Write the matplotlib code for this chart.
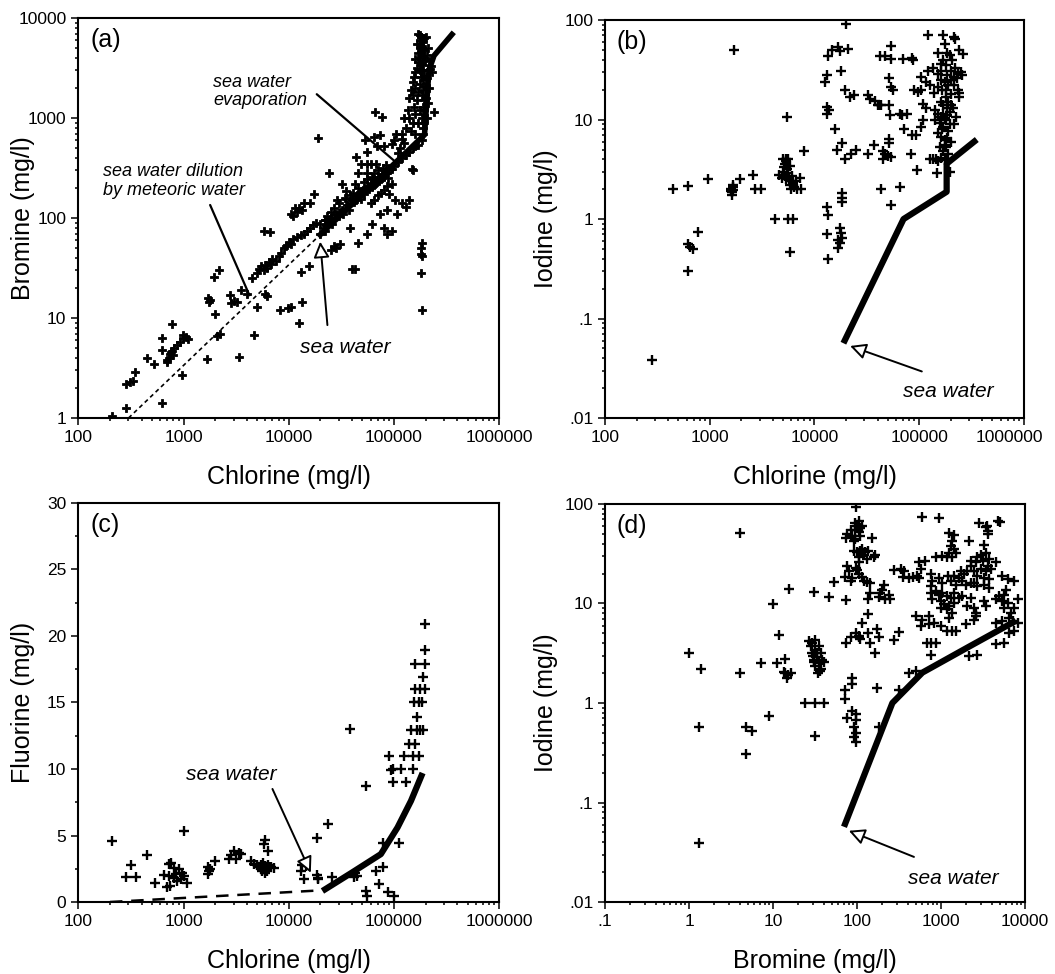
import numpy as np
import matplotlib
matplotlib.use('Agg')
import matplotlib.pyplot as plt
import matplotlib.transforms as mtransforms
from matplotlib.ticker import LogLocator, NullFormatter, MultipleLocator

plt.rcParams['font.family'] = ['Liberation Sans', 'DejaVu Sans']

# ---- (a) chlorine vs bromine (mg/l)
a_pts = [
    (210, 1.05), (285, 1.27), (285, 2.2), (310, 2.3), (330, 2.35), (345, 2.9), (445, 4.0), (525, 3.5),
    (630, 1.4), (625, 6.3), (630, 4.8), (780, 8.7), (690, 3.6), (700, 3.8), (720, 4.0), (740, 4.4),
    (760, 4.6), (780, 4.7), (800, 4.3), (820, 5.0), (870, 5.4), (920, 5.8), (980, 6.3), (1050, 6.5),
    (1100, 6.2), (960, 2.7), (990, 6.8), (1660, 3.9), (1700, 16), (1750, 14.5), (1800, 15), (2000, 11),
    (1950, 26), (2150, 30), (2100, 6.6), (2200, 6.9), (2750, 17), (2850, 14), (3000, 14.8), (3200, 14.5),
    (3400, 4.1), (3500, 19), (4000, 17.5), (4700, 6.7), (5000, 13), (4500, 25), (6200, 16.5), (6000, 17.5),
    (5000, 28), (5200, 31), (5500, 33), (5800, 30), (6000, 34), (6200, 32), (6500, 36), (6800, 35),
    (7000, 39), (7500, 37), (8000, 42), (8500, 45), (9000, 50), (9500, 52), (10000, 58), (10500, 55),
    (11000, 62), (12000, 65), (13000, 68), (14000, 70), (15000, 75), (16000, 80), (17000, 85), (18000, 90),
    (20000, 88), (22000, 95), (25000, 100), (5800, 75), (6600, 72), (10500, 110), (11500, 125), (12500, 125),
    (12000, 115), (11000, 105), (13500, 120), (17500, 175), (14000, 140), (16000, 140), (19000, 630), (24000, 280),
    (32000, 220), (27000, 52), (31000, 55), (40000, 31), (43000, 31), (8300, 12), (9800, 12.5), (10500, 13),
    (12400, 9), (13500, 14.5), (13000, 29), (15500, 33), (25000, 48), (28000, 50),
    # around the sea water line
    (44000, 410), (55000, 460), (53000, 600), (69000, 520), (66000, 1150), (77000, 1030), (64000, 650), (73000, 670),
    (80000, 520), (49000, 350), (55000, 350), (61000, 350), (68000, 350), (46000, 280), (55000, 280), (64000, 280),
    (43000, 220), (51000, 190), (57000, 200), (44000, 150), (49000, 155), (29000, 150), (35000, 185), (35000, 155),
    (20000, 70), (21000, 80), (22000, 75), (23000, 85), (24000, 90), (25000, 95), (26000, 88), (27000, 100),
    (28000, 110), (30000, 105), (31000, 115), (32000, 120), (33000, 110), (35000, 125), (36000, 135), (37000, 120),
    (38000, 140), (40000, 150), (42000, 145), (44000, 160), (45000, 170), (47000, 165), (48000, 180), (50000, 185),
    (52000, 175), (54000, 190), (55000, 200), (57000, 210), (58000, 195), (60000, 220), (62000, 205), (64000, 230),
    (65000, 215), (66000, 240), (68000, 225), (70000, 250), (72000, 235), (74000, 260), (75000, 245), (78000, 270),
    (80000, 260), (82000, 290), (85000, 280), (90000, 300), (95000, 310), (100000, 330), (110000, 360), (120000, 400),
    (130000, 430), (140000, 460), (150000, 500), (160000, 520), (170000, 540), (60000, 140), (65000, 150), (70000, 170),
    (75000, 180), (80000, 190), (85000, 210), (90000, 175), (95000, 220), (88000, 250), (62000, 260), (56000, 245),
    (52000, 230), (70000, 300), (78000, 320), (84000, 340), (46000, 200), (41000, 180), (38000, 170), (34000, 160),
    (30000, 140), (27000, 125), (25000, 115), (23000, 105), (22000, 95), (46000, 56), (38000, 80), (55000, 70),
    (62000, 88), (80000, 80), (85000, 70), (95000, 75), (73000, 110), (85000, 120), (106000, 110), (130000, 130),
    (138000, 150), (120000, 140), (102000, 150), (150000, 300), (147000, 310),
    (184000, 56), (182000, 50), (180000, 44), (184000, 42), (182000, 28), (184000, 12), (240000, 1160),
    # evaporated brines
    (185000, 600), (190000, 700), (188000, 800), (192000, 900), (186000, 1000), (190000, 1100), (194000, 1200),
    (188000, 1300), (192000, 1500), (186000, 1700), (190000, 1900), (195000, 2100), (188000, 2400), (192000, 2700),
    (186000, 3000), (190000, 3400), (196000, 3800), (188000, 4200), (192000, 4800), (186000, 5300), (190000, 5800),
    (194000, 6300), (200000, 6500), (150000, 900), (160000, 1100), (155000, 1300), (165000, 1500), (150000, 1700),
    (140000, 1600), (145000, 1900), (160000, 2000), (150000, 2300), (155000, 2600), (160000, 2900), (165000, 3200),
    (170000, 3600), (160000, 3900), (170000, 4500), (175000, 5000), (165000, 5500), (175000, 6000), (180000, 6500),
    (170000, 7000), (178000, 6800), (130000, 800), (120000, 700), (125000, 1000), (135000, 1200), (140000, 1000),
    (145000, 750), (160000, 700), (170000, 900), (175000, 1200), (170000, 1800), (175000, 2200), (180000, 2600),
    (175000, 3000), (182000, 3500), (178000, 4000), (182000, 4600), (176000, 5500), (184000, 5000), (205000, 1000),
    (210000, 1400), (200000, 1600), (215000, 2000), (205000, 2500), (210000, 3000), (220000, 3100), (230000, 2900),
    (225000, 3300), (215000, 3700), (205000, 4300), (210000, 5000), (110000, 450), (115000, 500), (125000, 560),
    (120000, 620), (100000, 600), (95000, 550), (105000, 700),
]
a_evap_cl = [19000, 195000, 215000, 240000, 370000]
a_evap_br = [65, 680, 3000, 4200, 7200]
a_dil_cl = [300, 19000]
a_dil_br = [1.0, 65]

# ---- (b) chlorine vs iodine (mg/l)
b_pts = [
    (280, 0.038), (450, 2.0), (615, 2.15), (615, 0.56), (650, 0.52), (690, 0.5), (615, 0.3), (770, 0.74),
    (960, 2.5), (1600, 2.0), (1650, 2.1), (1620, 1.85), (1680, 1.95), (1580, 1.9), (1660, 2.2), (1640, 1.75),
    (1700, 50), (1950, 2.5), (2600, 2.8), (2700, 2.0), (3100, 2.0), (4200, 1.0), (5600, 1.0), (6300, 1.0),
    (5800, 0.47), (5500, 10.5), (8000, 4.8), (4600, 2.8), (4900, 2.6), (5000, 3.0), (5100, 3.3), (5200, 3.6),
    (5300, 4.0), (5400, 3.8), (5500, 3.2), (5600, 2.9), (5700, 2.6), (5800, 2.4), (5900, 2.2), (6000, 2.0),
    (6200, 2.3), (6400, 2.1), (6600, 2.4), (6800, 2.0), (7200, 2.6), (7500, 2.0), (5000, 4.0), (5600, 4.0),
    (5200, 2.7), (5400, 2.5), (6100, 2.7), (5800, 3.4), (12600, 24), (13350, 43.5), (14700, 50), (16800, 54),
    (17700, 49), (20800, 51), (20000, 91), (18000, 31), (13300, 28), (13300, 13.5), (13800, 12.5), (13100, 11.5),
    (15700, 8.0), (16500, 5.0), (18500, 5.8), (19500, 4.0), (22400, 4.5), (25000, 5.0), (19500, 20), (21800, 17),
    (24000, 17.5), (32600, 17.5), (33700, 16), (37800, 15.5), (40000, 14), (41500, 14), (43000, 14), (37000, 5.5),
    (32600, 4.5), (43000, 2.0), (45000, 4.8), (47000, 4.5), (50000, 4.3), (54000, 4.2), (45000, 4.0), (42000, 44),
    (47000, 44), (54000, 55), (54000, 41), (52000, 26), (54000, 21), (56000, 20), (52000, 14), (53000, 11),
    (51000, 6.4), (52000, 5.8), (54000, 1.4), (65000, 2.1), (65000, 11.5), (68000, 11), (77000, 11.5), (70000, 41),
    (85000, 42), (88000, 40), (72000, 8), (85000, 7), (93000, 7), (83000, 4.5), (95000, 3.1), (122000, 71),
    (105000, 27), (115000, 24), (127000, 22), (108000, 10), (105000, 8.5), (122000, 31), (135000, 33), (150000, 29),
    (170000, 70), (150000, 47), (175000, 57), (215000, 68), (218000, 64), (240000, 50), (265000, 46), (170000, 40),
    (180000, 35), (163000, 31), (185000, 28), (200000, 31), (215000, 27), (235000, 29), (255000, 28), (140000, 18.5),
    (150000, 21), (165000, 20), (180000, 17), (200000, 18), (235000, 20), (240000, 18.5), (141000, 12.5), (150000, 11.5),
    (163000, 10.7), (175000, 10.3), (141000, 9.9), (158000, 9.2), (170000, 8.5), (182000, 9.9), (150000, 7.3),
    (163000, 6.7), (175000, 6.2), (188000, 7.6), (158000, 5.3), (170000, 4.8), (182000, 5.3), (163000, 4.1),
    (150000, 3.8), (175000, 3.9), (127000, 4.0), (136000, 4.0), (146000, 4.0), (147000, 2.9), (195000, 3.0),
    (108000, 14.5), (115000, 13), (90000, 20), (98000, 19), (105000, 20), (215000, 22), (240000, 17), (225000, 10.5),
    (215000, 9), (160000, 15), (170000, 14), (185000, 13), (195000, 12), (160000, 25), (175000, 24), (190000, 22),
    (200000, 25), (180000, 20), (190000, 15), (170000, 11.5), (185000, 11), (195000, 9), (200000, 6), (185000, 6.5),
    (165000, 8), (190000, 4.5), (175000, 5.5), (180000, 4), (200000, 14), (210000, 13), (230000, 26), (250000, 30),
    (220000, 33), (205000, 40), (195000, 45), (185000, 47), (160000, 36),
    (13100, 1.33), (13500, 1.1), (18300, 1.83), (18300, 1.62), (18300, 1.5), (13100, 0.7), (17500, 0.81),
    (17900, 0.72), (18300, 0.64), (16800, 0.62), (17500, 0.57), (16800, 0.51), (13500, 0.4),
]
b_evap_cl = [18900, 70900, 183000, 183000, 355000]
b_evap_i = [0.0565, 1.0, 1.88, 3.6, 6.3]

# ---- (c) chlorine vs fluorine (mg/l)
c_pts = [
    (207, 4.6), (315, 2.75), (282, 1.9), (350, 1.9), (450, 3.5), (530, 1.45), (650, 2.0), (720, 1.95),
    (690, 1.1), (750, 1.2), (812, 1.83), (873, 1.58), (940, 1.71), (728, 2.84), (812, 2.58), (900, 2.46),
    (976, 2.21), (1010, 1.96), (1087, 1.46), (846, 2.08), (755, 2.96), (1000, 5.35), (1700, 2.1), (1750, 2.3),
    (1800, 2.45), (1700, 2.6), (2000, 3.1), (2700, 3.2), (2800, 3.5), (3000, 3.85), (3150, 3.2), (3400, 3.7),
    (3500, 3.6), (4400, 3.05), (4700, 2.85), (5000, 2.75), (5200, 2.6), (5400, 2.8), (5500, 2.5), (5700, 2.9),
    (5800, 2.6), (5900, 2.4), (6000, 2.7), (6100, 2.5), (6200, 2.3), (6300, 2.8), (6500, 2.6), (6800, 2.6),
    (7300, 2.55), (5600, 2.35), (6000, 2.2), (6000, 4.7), (5850, 4.35), (6300, 3.85), (13000, 2.35), (13500, 2.8),
    (14500, 2.7), (14000, 1.7), (18500, 2.0), (19000, 1.8), (18800, 1.7), (18700, 4.8), (23700, 5.85), (26000, 1.85),
    (38000, 13), (54000, 8.75), (45000, 1.95), (43000, 2.2), (41500, 1.85), (54000, 0.8), (56000, 0.45), (67000, 2.3),
    (78000, 2.65), (72000, 1.35), (87000, 0.75), (100000, 0.45), (78000, 4.45), (112000, 4.45), (90000, 11),
    (97000, 10), (116000, 10), (125000, 11), (150000, 11), (173000, 11), (97000, 9.0), (130000, 9.0), (150000, 10),
    (93000, 9.9), (138000, 11.9), (160000, 11.9), (145000, 12.9), (165000, 12.9), (178000, 12.9), (190000, 12.9),
    (165000, 13.9), (155000, 15), (172000, 15), (185000, 15), (160000, 16), (178000, 16), (198000, 16),
    (190000, 16.9), (160000, 17.9), (198000, 17.9), (198000, 18.95), (198000, 20.9),
]
c_evap_cl = [20900, 39600, 75000, 108000, 145000, 187000]
c_evap_f = [0.83, 2.2, 3.6, 5.6, 7.6, 9.7]
c_dil_cl = [200, 17500]
c_dil_f = [0.0, 0.85]

# ---- (d) bromine vs iodine (mg/l)
d_pts = [
    (1.0, 3.2), (1.4, 2.2), (1.3, 0.58), (1.3, 0.039), (4.0, 51), (4.0, 2.0), (4.8, 0.57), (5.7, 0.52),
    (4.8, 0.31), (7.1, 2.5), (8.9, 0.74), (10, 9.8), (11.7, 4.8), (11.2, 2.5), (14, 2.75), (14, 2.0),
    (15, 1.9), (16.5, 2.0), (14.5, 1.8), (13.5, 2.05), (15.4, 14), (24, 1.0), (32, 1.0), (41, 1.0),
    (32, 0.47), (31, 13), (27, 4.2), (28, 3.7), (29, 3.15), (30.5, 2.7), (32, 3.4), (33.5, 2.9),
    (35, 2.5), (37, 2.2), (38.5, 2.7), (29, 4.0), (32, 4.3), (35, 3.7), (37, 3.2), (40, 2.6),
    (32, 2.35), (34, 2.0), (36, 2.1), (30, 3.0), (31, 2.6), (33, 3.2), (46, 11.7), (53, 16.5),
    (72, 1.35), (72, 1.1), (88, 1.8), (88, 1.55), (76, 0.7), (88, 0.84), (97, 0.78), (97, 0.67),
    (92, 0.58), (97, 0.5), (97, 0.41), (92, 0.46), (75, 10.8), (75, 4.0), (84, 4.6), (97, 5.0),
    (105, 4.6), (110, 4.4), (76, 24), (80, 21), (84, 17), (88, 18), (73, 18.6), (74, 45),
    (76, 50), (84, 55), (88, 48), (96, 55), (101, 60), (106, 52), (110, 57), (106, 67),
    (96, 64), (92, 42), (115, 60), (110, 48), (96, 44), (97, 94), (92, 34), (101, 33),
    (110, 34), (115, 35.5), (120, 30.7), (106, 29.5), (125, 33), (137, 34), (131, 28), (97, 22.5),
    (106, 20), (115, 18.6), (120, 17), (131, 16.5), (143, 16), (106, 26), (101, 21.7), (150, 45),
    (160, 29.5), (165, 30.5), (137, 11.2), (143, 12.6), (137, 7.9), (115, 6.3), (106, 4.7), (137, 5.0),
    (143, 4.0), (175, 5.6), (183, 4.6), (165, 3.15), (175, 1.4), (183, 0.58), (190, 12.6), (200, 13.6),
    (210, 15.3), (217, 11.2), (240, 12.2), (250, 11.2), (183, 11.7), (276, 21.7), (350, 18.6), (460, 18.6),
    (550, 26), (590, 74), (950, 72), (276, 4.3), (316, 5.2), (420, 2.0), (316, 1.35),
    (2850, 65), (3400, 58), (3600, 54), (3650, 49.5), (3550, 60), (4800, 68), (5000, 66),
    (1250, 51), (1430, 49), (1370, 42), (1310, 38), (1430, 35), (1250, 32), (1500, 32), (1370, 29),
    (1190, 29), (2170, 42), (3270, 39), (3430, 32), (2990, 31), (2720, 29), (3130, 27), (3750, 28),
    (3590, 24), (2600, 26), (2270, 27), (3930, 22), (4500, 26), (3430, 21), (2990, 22), (2480, 21),
    (2720, 19), (3270, 18), (3750, 17.5), (2270, 24), (2070, 21), (1890, 19.6), (1720, 21), (1645, 18),
    (1800, 17), (1980, 15.5), (2270, 16), (2480, 16), (2720, 15), (3270, 15.5), (3750, 14.4), (870, 29),
    (1040, 30), (650, 27), (330, 22), (363, 21), (417, 18), (524, 18.8), (574, 22), (548, 18),
    (755, 19.6), (790, 16.8), (755, 15), (950, 18), (1040, 16.2), (1200, 18.8), (1310, 16.8), (1435, 18.8),
    (1500, 15.5), (755, 12.8), (867, 13.3), (950, 12.3), (1040, 12.8), (1195, 11.9), (1310, 11.4), (1435, 12.8),
    (1645, 11.4), (790, 11), (1000, 10.5), (1100, 9.8), (1250, 9.4), (1435, 10.2), (1195, 8.7), (1000, 9.05),
    (1370, 8.06), (1800, 11.9), (2270, 11.4), (2070, 9.4), (2480, 9.05), (3270, 10.5), (3430, 9.4), (2600, 8.06),
    (4510, 11), (4930, 11.9), (5400, 10.5), (5660, 9.05), (6210, 10.2), (7460, 9.05), (5660, 12.3), (5930, 13.8),
    (5400, 18.8), (6210, 17.5), (7460, 16.8), (8180, 11), (6800, 8.06), (500, 7.45), (601, 6.9), (721, 7.45),
    (721, 6.15), (574, 5.92), (828, 6.4), (995, 5.92), (1250, 7.18), (1195, 5.27), (1371, 5.27), (1500, 5.27),
    (690, 4.0), (755, 4.0), (867, 4.0), (755, 3.07), (500, 2.08), (1980, 6.15), (2480, 6.9), (2600, 7.45),
    (4510, 6.4), (5400, 6.64), (6500, 7.18), (7130, 6.64), (8180, 6.4), (7460, 5.27), (5660, 4.0), (2720, 3.07),
    (4500, 3.96), (2170, 3.0), (6500, 5.0),
]
d_evap_br = [70, 264, 601, 2170, 7820]
d_evap_i = [0.057, 1.0, 2.02, 3.69, 6.7]

cl_ticks = [100, 1000, 10000, 100000, 1000000]
cl_labels = ['100', '1000', '10000', '100000', '1000000']
small_ticks = [0.01, 0.1, 1, 10, 100]
small_labels = ['.01', '.1', '1', '10', '100']

LABEL_FS = 18
TICK_FS = 12.5
NOTE_FS = 15
ARROW = dict(arrowstyle='-|>,head_length=0.6,head_width=0.3', fc='white', ec='black',
             lw=1.4, mutation_scale=16, shrinkA=0, shrinkB=0)
LINE = dict(arrowstyle='-', color='black', lw=1.6, shrinkA=0, shrinkB=0)


def style_axis(ax, xlog, ylog):
    for s in ax.spines.values():
        s.set_linewidth(1.5)
    ax.tick_params(which='both', direction='out', top=False, right=False,
                   labelsize=TICK_FS, width=1.1)
    ax.tick_params(which='major', length=5)
    ax.tick_params(which='minor', length=2.5)
    if xlog:
        ax.xaxis.set_minor_locator(LogLocator(base=10, subs=np.arange(2, 10), numticks=20))
        ax.xaxis.set_minor_formatter(NullFormatter())
    if ylog:
        ax.yaxis.set_minor_locator(LogLocator(base=10, subs=np.arange(2, 10), numticks=20))
        ax.yaxis.set_minor_formatter(NullFormatter())


def panel_tag(ax, tag):
    ax.text(0.028, 0.975, tag, transform=ax.transAxes, ha='left', va='top', fontsize=LABEL_FS)


def scatter(ax, pts, marker, ms, mew):
    arr = np.array(pts, dtype=float)
    ax.plot(arr[:, 0], arr[:, 1], linestyle='none', marker=marker, ms=ms, mew=mew,
            color='black', mec='black')


fig = plt.figure(figsize=(10.55, 9.74), dpi=100)
ax_a = fig.add_axes([0.0742, 0.5708, 0.399, 0.4107])
ax_b = fig.add_axes([0.5735, 0.5708, 0.397, 0.4086])
ax_c = fig.add_axes([0.0742, 0.0739, 0.399, 0.4097])
ax_d = fig.add_axes([0.5735, 0.0739, 0.398, 0.4087])

# (a)
ax = ax_a
ax.set_xscale('log'); ax.set_yscale('log')
scatter(ax, a_pts, 'P', 5.5, 0.6)
ax.plot(a_dil_cl, a_dil_br, color='black', lw=1.2, ls=(0, (2.5, 2.0)))
ax.plot(a_evap_cl, a_evap_br, color='black', lw=4.0, solid_capstyle='butt', solid_joinstyle='round')
ax.set_xlim(100, 1e6); ax.set_ylim(1, 10000)
ax.set_xticks(cl_ticks); ax.set_xticklabels(cl_labels)
ax.set_yticks([1, 10, 100, 1000, 10000]); ax.set_yticklabels(['1', '10', '100', '1000', '10000'])
ax.text(1920, 1840, 'sea water\nevaporation', style='italic', fontsize=13, ha='left', va='center', linespacing=1.1)
ax.annotate('', xy=(102500, 367), xytext=(18450, 1730), arrowprops=LINE)
ax.text(173, 235, 'sea water dilution\nby meteoric water', style='italic', fontsize=13, ha='left', va='center', linespacing=1.15)
ax.annotate('', xy=(4230, 16.9), xytext=(1790, 135), arrowprops=LINE)
ax.text(12800, 5.1, 'sea water', style='italic', fontsize=NOTE_FS, ha='left', va='center')
ax.annotate('', xy=(19900, 58), xytext=(23300, 8.5), arrowprops=ARROW)
ax.set_xlabel('Chlorine (mg/l)', fontsize=LABEL_FS)
ax.set_ylabel('Bromine (mg/l)', fontsize=LABEL_FS)
panel_tag(ax, '(a)')
style_axis(ax, True, True)

# (b)
ax = ax_b
ax.set_xscale('log'); ax.set_yscale('log')
scatter(ax, b_pts, '+', 6.5, 1.7)
ax.plot(b_evap_cl, b_evap_i, color='black', lw=4.5, solid_capstyle='butt', solid_joinstyle='round')
ax.set_xlim(100, 1e6); ax.set_ylim(0.01, 100)
ax.set_xticks(cl_ticks); ax.set_xticklabels(cl_labels)
ax.set_yticks(small_ticks); ax.set_yticklabels(small_labels)
ax.text(70000, 0.0184, 'sea water', style='italic', fontsize=NOTE_FS, ha='left', va='center')
ax.annotate('', xy=(21900, 0.053), xytext=(106000, 0.0294), arrowprops=ARROW)
ax.set_xlabel('Chlorine (mg/l)', fontsize=LABEL_FS)
ax.set_ylabel('Iodine (mg/l)', fontsize=LABEL_FS)
panel_tag(ax, '(b)')
style_axis(ax, True, True)
# the last label sits a little inside the page edge in the original
shift = mtransforms.ScaledTranslation(-0.15, 0, fig.dpi_scale_trans)
lbl = ax.get_xticklabels()[-1]
lbl.set_transform(lbl.get_transform() + shift)

# (c)
ax = ax_c
ax.set_xscale('log')
scatter(ax, c_pts, '+', 6.5, 1.7)
ax.plot(c_dil_cl, c_dil_f, color='black', lw=1.8, ls=(0, (5, 3.5)))
ax.plot(c_evap_cl, c_evap_f, color='black', lw=4.5, solid_capstyle='butt', solid_joinstyle='round')
ax.set_xlim(100, 1e6); ax.set_ylim(0, 30)
ax.set_xticks(cl_ticks); ax.set_xticklabels(cl_labels)
ax.set_yticks([0, 5, 10, 15, 20, 25, 30])
ax.yaxis.set_minor_locator(MultipleLocator(2.5))
ax.text(1050, 9.56, 'sea water', style='italic', fontsize=NOTE_FS, ha='left', va='center')
ax.annotate('', xy=(16200, 2.2), xytext=(7000, 8.5), arrowprops=ARROW)
ax.set_xlabel('Chlorine (mg/l)', fontsize=LABEL_FS)
ax.set_ylabel('Fluorine (mg/l)', fontsize=LABEL_FS)
panel_tag(ax, '(c)')
style_axis(ax, True, False)

# (d)
ax = ax_d
ax.set_xscale('log'); ax.set_yscale('log')
scatter(ax, d_pts, '+', 6.5, 1.7)
ax.plot(d_evap_br, d_evap_i, color='black', lw=4.5, solid_capstyle='butt', solid_joinstyle='round')
ax.set_xlim(0.1, 10000); ax.set_ylim(0.01, 100)
ax.set_xticks([0.1, 1, 10, 100, 1000, 10000]); ax.set_xticklabels(['.1', '1', '10', '100', '1000', '10000'])
ax.set_yticks(small_ticks); ax.set_yticklabels(small_labels)
ax.text(402, 0.0174, 'sea water', style='italic', fontsize=NOTE_FS, ha='left', va='center')
ax.annotate('', xy=(80, 0.052), xytext=(477, 0.0284), arrowprops=ARROW)
ax.set_xlabel('Bromine (mg/l)', fontsize=LABEL_FS)
ax.set_ylabel('Iodine (mg/l)', fontsize=LABEL_FS)
panel_tag(ax, '(d)')
style_axis(ax, True, True)

for ax in (ax_a, ax_c):
    ax.yaxis.set_label_coords(-0.103, 0.5)
for ax in (ax_b, ax_d):
    ax.yaxis.set_label_coords(-0.112, 0.5)
for ax in (ax_a, ax_b, ax_c, ax_d):
    ax.xaxis.set_label_coords(0.5, -0.118)

fig.savefig('out.png', dpi=100)
